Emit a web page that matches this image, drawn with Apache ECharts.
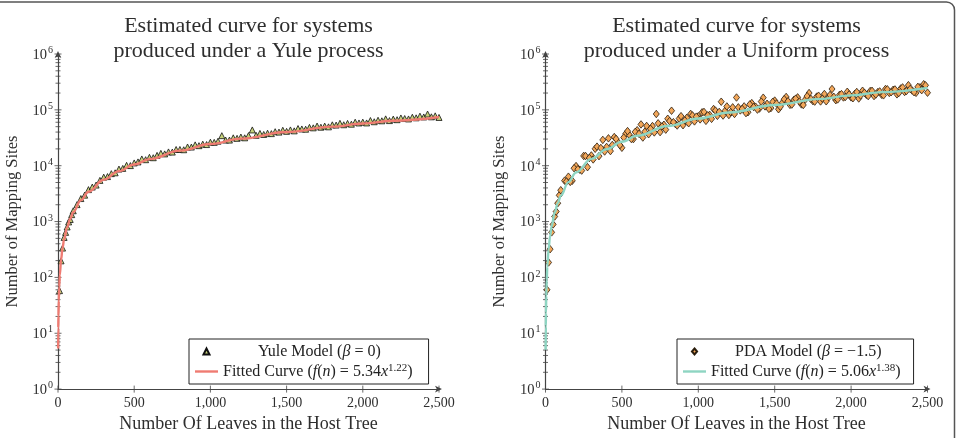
<!DOCTYPE html>
<html>
<head>
<meta charset="utf-8">
<script src="https://cdn.jsdelivr.net/npm/echarts@6.0.0/dist/echarts.min.js"></script>
<style>
  html, body { margin: 0; padding: 0; background: #fff; }
  #chart { width: 963px; height: 438px; }
</style>
</head>
<body>
<div id="chart"></div>
<script>
  // host tree sizes shared by both simulated data sets
  const leaves = [10, 20, 30, 40, 50, 60, 70, 80, 90, 100,
    125, 150, 175, 200, 225, 250, 275, 300, 325, 350, 375, 400, 425, 450, 475, 500,
    525, 550, 575, 600, 625, 650, 675, 700, 725, 750, 775, 800, 825, 850, 875, 900, 925, 950, 975, 1000,
    1025, 1050, 1075, 1100, 1125, 1150, 1175, 1200, 1225, 1250, 1275, 1300, 1325, 1350, 1375, 1400, 1425, 1450, 1475, 1500,
    1525, 1550, 1575, 1600, 1625, 1650, 1675, 1700, 1725, 1750, 1775, 1800, 1825, 1850, 1875, 1900, 1925, 1950, 1975, 2000,
    2025, 2050, 2075, 2100, 2125, 2150, 2175, 2200, 2225, 2250, 2275, 2300, 2325, 2350, 2375, 2400, 2425, 2450, 2475, 2500]

  const yuleSites = [58, 198, 335, 520, 640, 800, 985, 1090, 1330, 1560,
    2010, 2580, 2970, 3730, 4150, 4500, 5460, 6240, 6390, 7210, 7460, 8700, 8950, 10150, 10050, 11210,
    11690, 13200, 12810, 14140, 13900, 15310, 16630, 16270, 17650, 17540, 19500, 19520, 19310, 21630, 21570, 23610, 22860, 24310, 23910, 26360,
    26170, 27470, 34500, 28790, 28750, 31560, 30910, 32620, 31590, 34620, 43700, 34960, 37860, 36270, 38170, 37540, 40620, 39950, 43150, 41230,
    43710, 42080, 46310, 45470, 45020, 48560, 47630, 51290, 48890, 51210, 49640, 53990, 53390, 57390, 54130, 57150, 55360, 60100, 58240, 60270,
    58310, 64460, 61250, 65170, 63670, 68940, 64250, 68340, 66700, 71560, 69870, 68780, 73800, 72000, 77140, 74580, 84150, 75000, 78120, 73110]

  const pdaSites = [60, 185, 320, 640, 890, 1230, 1510, 2130, 2950, 3640,
    5400, 6360, 5360, 9850, 8470, 14950, 9410, 15250, 20080, 14840, 28960, 21680, 18270, 32590, 26310, 20940,
    37380, 35270, 29960, 43130, 54820, 40520, 36570, 51220, 84300, 39950, 54080, 69300, 96470, 55860, 69740, 53130, 72150, 84630, 62060, 76800,
    90340, 63510, 81030, 103500, 78060, 139800, 95980, 80820, 110900, 166300, 97680, 115300, 90640, 132100, 113800, 105500, 165100, 128300, 107500, 146600,
    102500, 134300, 170000, 122900, 150200, 167300, 125200, 152500, 200000, 143600, 172600, 141400, 192200, 163200, 236100, 149000, 186200, 166700, 210700, 167200,
    194100, 159800, 219900, 186600, 217400, 176700, 208200, 186600, 235800, 201000, 228000, 189500, 241600, 208900, 276500, 222000, 201500, 252500, 287800, 202800]

  // the uniform-process run has a second, interleaved batch of trees
  const pdaLeavesB = [137, 162, 187, 212, 237, 262, 287, 312, 337, 362, 387, 412, 437, 462, 487,
    512, 537, 562, 587, 612, 637, 662, 687, 712, 737, 762, 787, 812, 837, 862, 887, 912, 937, 962, 987,
    1012, 1037, 1062, 1087, 1112, 1137, 1162, 1187, 1212, 1237, 1262, 1287, 1312, 1337, 1362, 1387, 1412, 1437, 1462, 1487,
    1512, 1537, 1562, 1587, 1612, 1637, 1662, 1687, 1712, 1737, 1762, 1787, 1812, 1837, 1862, 1887, 1912, 1937, 1962, 1987,
    2012, 2037, 2062, 2087, 2112, 2137, 2162, 2187, 2212, 2237, 2262, 2287, 2312, 2337, 2362, 2387, 2412, 2437, 2462, 2487]
  const pdaSitesB = [5200, 5130, 9020, 8660, 8170, 14900, 13760, 12940, 21950, 20750, 17960, 30900, 23500, 30210, 23350,
    31970, 41600, 30050, 40250, 37300, 31930, 51500, 45820, 39390, 57400, 50490, 44220, 62950, 60200, 52430, 77020, 64640, 57530, 79540, 75500,
    67490, 91870, 79740, 68990, 97070, 91780, 79100, 115100, 91110, 84360, 110800, 103900, 87420, 125200, 112400, 100970, 140600, 115300, 103900, 138900,
    129800, 113800, 155200, 142700, 124200, 158600, 140850, 122200, 176000, 157100, 140400, 179000, 158600, 142300, 184500, 171100, 153800, 191300, 170000, 189200,
    161300, 208800, 180200, 202500, 176400, 219200, 188300, 213900, 181800, 233400, 206900, 231900, 199900, 252400, 217300, 236700, 207200, 258100, 225200, 275100]

  // fitted curves
  const fitLeaves = [1, 2, 3, 5, 8, 12, 20, 30, 40, 60, 80, 100, 150, 200, 300, 400, 500, 600, 800, 1000, 1200, 1500, 1800, 2000, 2200, 2500]
  const yuleFit = [5.34, 12.4, 20.4, 38.1, 67.5, 110.7, 206, 339, 481, 789, 1120, 1471, 2411, 3426, 5618, 7980, 10480, 13090, 18590, 24410, 30490, 40030, 49990, 56860, 63870, 74600]
  const pdaFit = [5.06, 13.2, 23.0, 46.6, 89.2, 156, 316, 552, 822, 1437, 2138, 2911, 5090, 7575, 13260, 19710, 26840, 34500, 51330, 69820, 89800, 122200, 157100, 181700, 207300, 247300]

  const xTickValues = [0, 500, 1000, 1500, 2000, 2500]
  const xTickLabels = ['0', '500', '1,000', '1,500', '2,000', '2,500']
  const yTickValues = [1, 10, 100, 1000, 10000, 100000, 1000000]
  const yTickExponents = ['0', '1', '2', '3', '4', '5', '6']
  const yMinorSteps = [2, 3, 4, 5, 6, 7, 8, 9]

  const serif = "'Liberation Serif', 'DejaVu Serif', serif"
  const ink = '#2e2e2e'

  let pairs = (xs, ys) => xs.map((x, i) => [x, ys[i]])

  // tick marks crossing the axes: [x, y, kind]
  let tickData = []
  yTickValues.forEach((v, i) => {
    tickData.push([0, v, 0])
    if (i < yTickValues.length - 1) {
      yMinorSteps.forEach(m => tickData.push([0, v * m, 1]))
    }
  })
  xTickValues.forEach(v => tickData.push([v, 1, 2]))

  function tickSeries(idx) {
    return {
      type: 'custom',
      xAxisIndex: idx,
      yAxisIndex: idx,
      silent: true,
      clip: false,
      z: 1,
      encode: { x: 0, y: 1 },
      data: tickData,
      renderItem(params, api) {
        let p = api.coord([api.value(0), api.value(1)])
        let kind = api.value(2)
        let len = kind === 1 ? 2.5 : 3.5
        let shape = kind === 2
          ? { x1: p[0], y1: p[1] - len, x2: p[0], y2: p[1] + len }
          : { x1: p[0] - len, y1: p[1], x2: p[0] + len, y2: p[1] }
        return { type: 'line', shape: shape, style: { stroke: '#444', lineWidth: 0.8 } }
      }
    }
  }

  function xAxisOf(idx) {
    return {
      type: 'value',
      gridIndex: idx,
      min: 0,
      max: 2500,
      interval: 500,
      name: 'Number Of Leaves in the Host Tree',
      nameLocation: 'middle',
      nameGap: 24,
      nameTextStyle: { fontFamily: serif, fontSize: 18, color: ink },
      axisLine: { show: true, symbol: ['none', 'arrow'], symbolSize: [5, 7], symbolOffset: [0, 3], lineStyle: { color: '#444', width: 1.2 } },
      axisTick: { show: false },
      splitLine: { show: false },
      axisLabel: {
        margin: 7,
        fontFamily: serif,
        fontSize: 14,
        color: ink,
        formatter: v => xTickLabels[xTickValues.indexOf(v)]
      }
    }
  }

  function yAxisOf(idx) {
    return {
      type: 'log',
      logBase: 10,
      gridIndex: idx,
      min: 1,
      max: 1000000,
      splitNumber: 6,
      name: 'Number of Mapping Sites',
      nameLocation: 'middle',
      nameGap: 37,
      nameTextStyle: { fontFamily: serif, fontSize: 16.5, color: ink },
      axisLine: { show: true, symbol: ['none', 'arrow'], symbolSize: [5, 7], symbolOffset: [0, 3], lineStyle: { color: '#444', width: 1.2 } },
      axisTick: { show: false },
      splitLine: { show: false },
      axisLabel: {
        margin: 5,
        formatter: v => '{b|10}{s|' + yTickExponents[Math.round(Math.log10(v))] + '}',
        rich: {
          b: { fontFamily: serif, fontSize: 14.5, color: ink, lineHeight: 17, verticalAlign: 'bottom' },
          s: { fontFamily: serif, fontSize: 10, color: ink, lineHeight: 17, verticalAlign: 'top', padding: [0, 0, 0, 1] }
        }
      }
    }
  }

  function legendRich(pad) {
    return {
      p: { width: pad },
      t: { fontFamily: serif, fontSize: 16, color: '#222' },
      i: { fontFamily: serif, fontSize: 16, color: '#222', fontStyle: 'italic' },
      s: { fontFamily: serif, fontSize: 11, color: '#222', verticalAlign: 'top', lineHeight: 17 }
    }
  }

  function legendOf(left, names, labels, markIcon, pad, padRight) {
    return {
      orient: 'vertical',
      left: left,
      top: 339,
      padding: [4, padRight, 4, 6],
      itemGap: 3,
      itemWidth: 23,
      itemHeight: 6,
      symbolKeepAspect: true,
      borderColor: '#222',
      borderWidth: 1,
      backgroundColor: '#fff',
      data: [
        { name: names[0], icon: markIcon },
        { name: names[1], icon: 'path://M0,0H23V2.4H0Z' }
      ],
      formatter: name => labels[names.indexOf(name)],
      textStyle: { fontFamily: serif, fontSize: 16, color: '#222', lineHeight: 17, rich: legendRich(pad) }
    }
  }

  const yuleNames = ['Yule Model (β = 0)', 'Fitted Curve (f(n) = 5.34x^1.22)']
  const yuleLabels = [
    '{p| }{t|Yule Model (}{i|β}{t| = 0)}',
    '{t|Fitted Curve (}{i|f}{t|(}{i|n}{t|) = 5.34}{i|x}{s|1.22}{t|)}'
  ]
  const pdaNames = ['PDA Model (β = −1.5)', 'Fitted Curve (f(n) = 5.06x^1.38)']
  const pdaLabels = [
    '{p| }{t|PDA Model (}{i|β}{t| = −1.5)}',
    '{t|Fitted Curve (}{i|f}{t|(}{i|n}{t|) = 5.06}{i|x}{s|1.38}{t|)}'
  ]

  const titleStyle = { textAlign: 'center', font: '22px ' + serif, lineHeight: 25, fill: ink }

  const chart = echarts.init(document.getElementById('chart'), null, { renderer: 'canvas' })
  chart.setOption({
    animation: false,
    backgroundColor: '#fff',
    graphic: [
      { type: 'rect', silent: true, z: -10, shape: { x: -10, y: 2, width: 964.5, height: 460, r: 8 }, style: { fill: 'none', stroke: '#555', lineWidth: 1.5 } },
      { type: 'text', x: 248.5, y: 14, silent: true, style: Object.assign({ text: 'Estimated curve for systems\nproduced under a Yule process' }, titleStyle) },
      { type: 'text', x: 736.5, y: 14, silent: true, style: Object.assign({ text: 'Estimated curve for systems\nproduced under a Uniform process' }, titleStyle) }
    ],
    grid: [
      { left: 58, top: 54, width: 381, height: 340 },
      { left: 545.5, top: 54, width: 382, height: 340 }
    ],
    xAxis: [xAxisOf(0), xAxisOf(1)],
    yAxis: [yAxisOf(0), yAxisOf(1)],
    legend: [
      legendOf(189, yuleNames, yuleLabels, 'path://M0,6L3,0L6,6Z', 35, 16),
      legendOf(677, pdaNames, pdaLabels, 'path://M3,0L6,3.5L3,7L0,3.5Z', 24, 13)
    ],
    series: [
      tickSeries(0),
      tickSeries(1),
      {
        name: yuleNames[0],
        type: 'scatter',
        xAxisIndex: 0,
        yAxisIndex: 0,
        symbol: 'triangle',
        symbolSize: 6,
        itemStyle: { color: '#c6d27a', borderColor: '#111', borderWidth: 0.8, opacity: 1 },
        data: pairs(leaves, yuleSites),
        z: 3
      },
      {
        name: yuleNames[1],
        type: 'line',
        xAxisIndex: 0,
        yAxisIndex: 0,
        smooth: 0.4,
        smoothMonotone: 'x',
        showSymbol: false,
        symbol: 'none',
        lineStyle: { color: '#ef7b72', width: 2.4 },
        itemStyle: { color: '#ef7b72' },
        data: pairs(fitLeaves, yuleFit),
        z: 4
      },
      {
        name: pdaNames[0],
        type: 'scatter',
        xAxisIndex: 1,
        yAxisIndex: 1,
        symbol: 'diamond',
        symbolSize: [6, 7.5],
        itemStyle: { color: '#f3a75a', borderColor: '#2a1d0c', borderWidth: 0.8, opacity: 1 },
        data: pairs(leaves, pdaSites).concat(pairs(pdaLeavesB, pdaSitesB)),
        z: 3
      },
      {
        name: pdaNames[1],
        type: 'line',
        xAxisIndex: 1,
        yAxisIndex: 1,
        smooth: 0.4,
        smoothMonotone: 'x',
        showSymbol: false,
        symbol: 'none',
        lineStyle: { color: '#8ed5c2', width: 2.4 },
        itemStyle: { color: '#8ed5c2' },
        data: pairs(fitLeaves, pdaFit),
        z: 4
      }
    ]
  })
</script>
</body>
</html>
